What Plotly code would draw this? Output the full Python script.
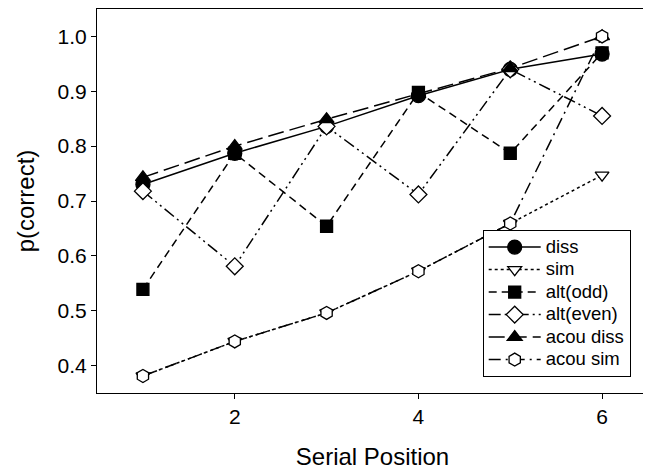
import plotly.graph_objects as go

positions = [1, 2, 3, 4, 5, 6]

diss = [0.730, 0.787, 0.836, 0.892, 0.940, 0.968]
sim = [0.381, 0.444, 0.496, 0.572, 0.659, 0.747]
alt_odd = [0.539, 0.787, 0.654, 0.898, 0.787, 0.970]
alt_even = [0.718, 0.581, 0.836, 0.712, 0.940, 0.855]
acou_diss = [0.743, 0.800, 0.849, 0.895, 0.942, 1.000]
acou_sim = [0.381, 0.444, 0.496, 0.572, 0.659, 1.000]

series = [
    ("diss", diss, "solid", "circle", "black", 14),
    ("sim", sim, "dot", "triangle-down", "white", 12),
    ("alt(odd)", alt_odd, "8px,5px", "square", "black", 12),
    ("alt(even)", alt_even, "12px,4px,2px,4px,2px,4px", "diamond", "white", 13),
    ("acou diss", acou_diss, "16px,6px", "triangle-up", "black", 13),
    ("acou sim", acou_sim, "12px,5px,2px,5px", "hexagon", "white", 13),
]

fig = go.Figure()
for name, vals, dash, sym, fill, size in series:
    fig.add_trace(go.Scatter(
        x=positions, y=vals,
        name="<span style='font-size:18.5px'>" + name + "</span>",
        mode="lines+markers",
        line=dict(color="black", width=1.5, dash=dash),
        marker=dict(symbol=sym, size=size, color=fill,
                    line=dict(color="black", width=1.3)),
    ))

font_family = "Liberation Sans, Arial, sans-serif"
# page body has an 8px default margin; compensate so the frame lands where the reference has it
fig.update_layout(
    width=643, height=464,
    margin=dict(l=89, r=3, t=1, b=79),
    paper_bgcolor="white", plot_bgcolor="white",
    font=dict(family=font_family, color="black", size=21),
    showlegend=True,
    legend=dict(
        x=0.70, y=0.042, xanchor="left", yanchor="bottom",
        bgcolor="white", bordercolor="black", borderwidth=1,
        font=dict(size=15), tracegroupgap=0, itemwidth=52,
    ),
    xaxis=dict(
        range=[0.5, 6.5], tickvals=[2, 4, 6],
        showline=True, linecolor="black", linewidth=1.2, mirror=True,
        ticks="outside", ticklen=5, tickcolor="black",
        showgrid=False, zeroline=False,
        title=dict(text="Serial Position", font=dict(size=24), standoff=20),
        tickfont=dict(size=21),
    ),
    yaxis=dict(
        range=[0.35, 1.05], tickvals=[0.4, 0.5, 0.6, 0.7, 0.8, 0.9, 1.0],
        tickformat=".1f",
        showline=True, linecolor="black", linewidth=1.2, mirror=True,
        ticks="outside", ticklen=5, tickcolor="black",
        showgrid=False, zeroline=False,
        title=dict(text="p(correct)", font=dict(size=24), standoff=16),
        tickfont=dict(size=21),
    ),
)

fig.write_html("out.html")
